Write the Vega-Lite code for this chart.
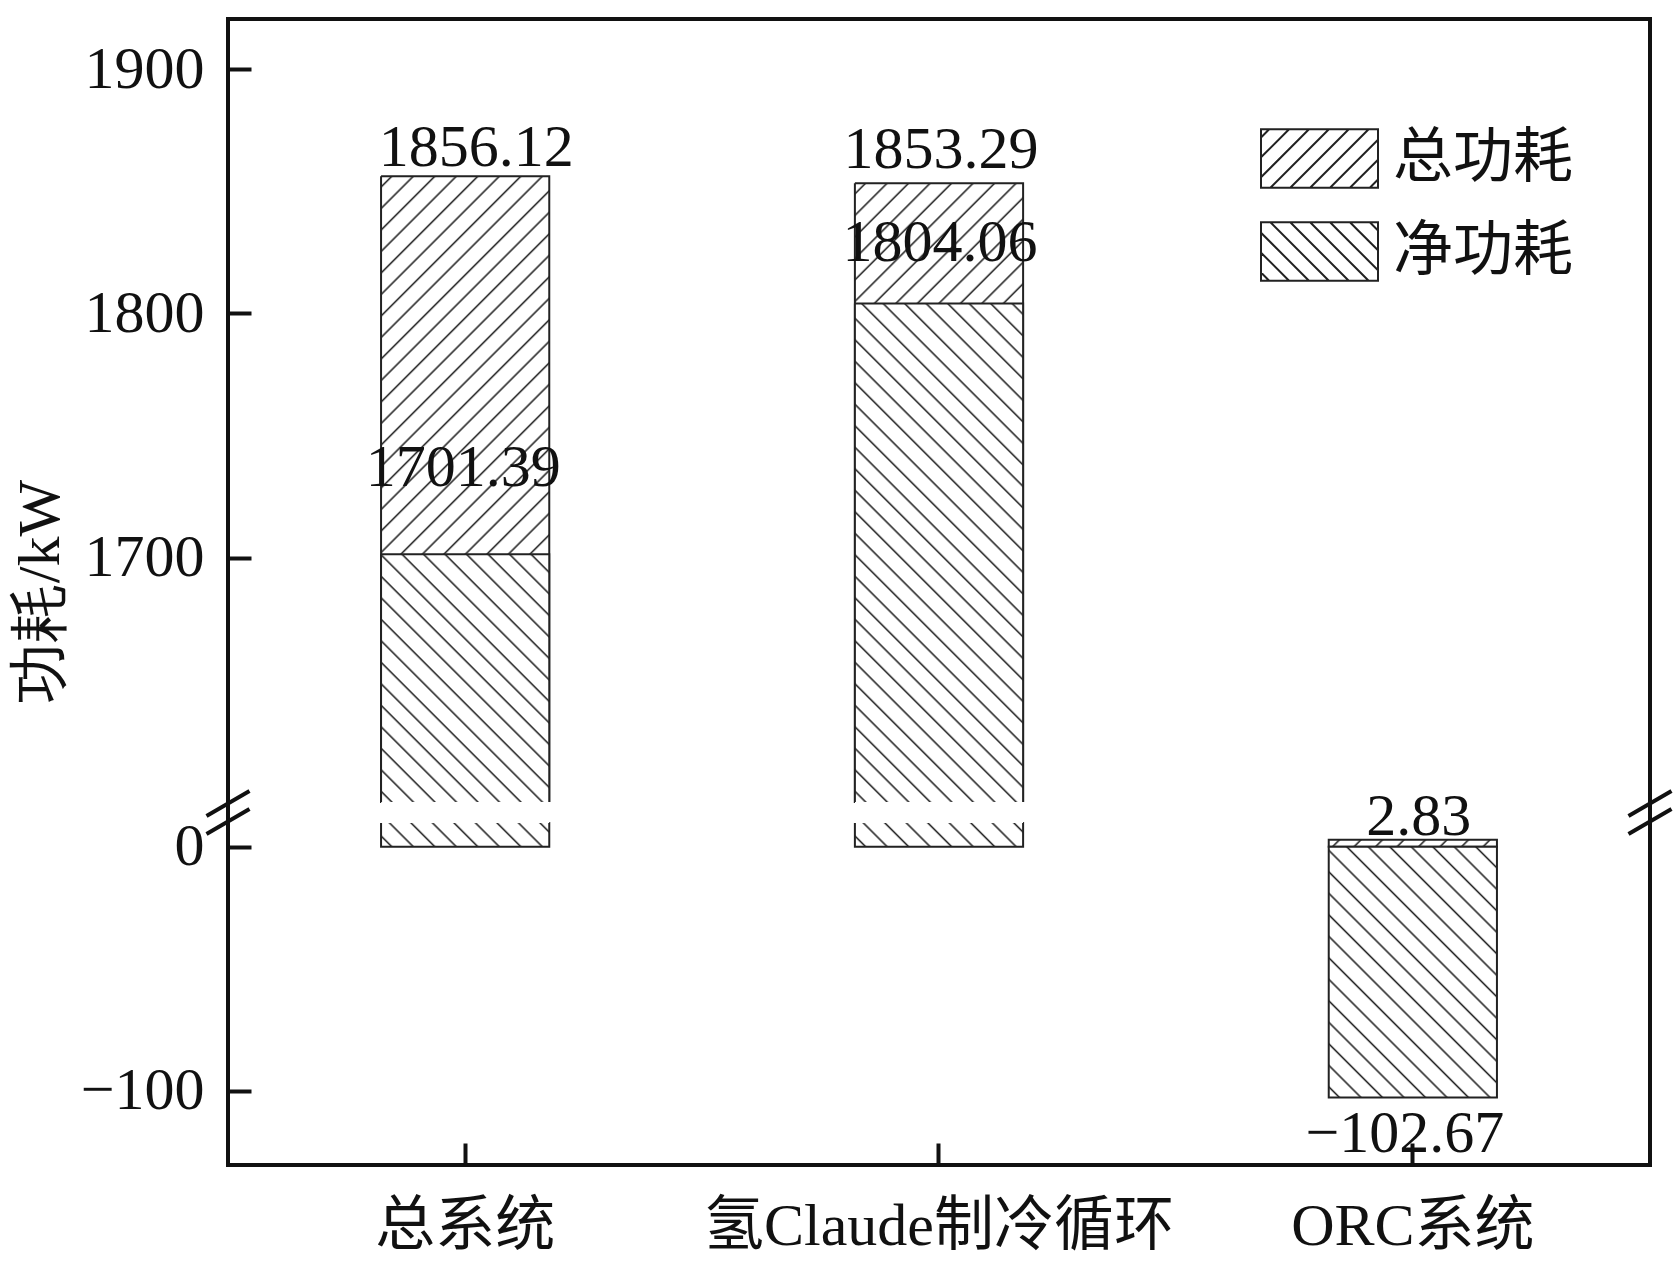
{
"$schema":"https://vega.github.io/schema/vega-lite/v6.json",
"background":"white",
"padding":{"left":8,"top":17,"right":10,"bottom":10},
"bounds":"flush",
"spacing":0,
"config":{"view":{"stroke":null},"axis":{"grid":false},"legend":{"labelLimit":0}},
"data":{"values":[
 {"category":"总系统","type":"总功耗","value":1856.12},
 {"category":"总系统","type":"净功耗","value":1701.39},
 {"category":"氢Claude制冷循环","type":"总功耗","value":1853.29},
 {"category":"氢Claude制冷循环","type":"净功耗","value":1804.06},
 {"category":"ORC系统","type":"总功耗","value":2.83},
 {"category":"ORC系统","type":"净功耗","value":-102.67}
]},
"resolve":{"scale":{"shape":"independent"},"legend":{"shape":"independent"}},
"vconcat":[
{
"width":1422,"height":783,
"view":{"stroke":"#111","strokeWidth":4,"strokeDash":[2205,1422,783]},
"encoding":{"y":{"field":"value","type":"quantitative","scale":{"domain":[1600,1920.5],"clamp":true,"nice":false,"zero":false},"axis":{"values":[1700,1800,1900],"format":"d","domain":false,"grid":false,"tickSize":-23,"tickWidth":4,"tickColor":"#111","labelPadding":47,"labelFont":"Liberation Serif","labelFontSize":60,"labelColor":"#111","labelLimit":0,"title":"功耗/kW","titleFont":"Liberation Serif","titleFontSize":60,"titleFontWeight":"normal","titleColor":"#111","titleAngle":270,"titleX":-188,"titleY":572,"titleAlign":"center","titleBaseline":"middle"}}},
"layer":[
 {"transform":[{"filter":"datum.category === '总系统' && datum.type === '总功耗'"}],
  "mark":{"type":"bar","stroke":"#222","strokeWidth":2,"strokeDash":[793.9,168.2,625.7,1],"fill":{"gradient":"linear","x1":0,"y1":0,"x2":0.3181,"y2":1.1833,"stops":[{"offset":0.01077,"color":"#fff"},{"offset":0.01354,"color":"#222"},{"offset":0.01631,"color":"#fff"},{"offset":0.03785,"color":"#fff"},{"offset":0.04062,"color":"#222"},{"offset":0.04339,"color":"#fff"},{"offset":0.06493,"color":"#fff"},{"offset":0.06771,"color":"#222"},{"offset":0.07048,"color":"#fff"},{"offset":0.09202,"color":"#fff"},{"offset":0.09479,"color":"#222"},{"offset":0.09756,"color":"#fff"},{"offset":0.1191,"color":"#fff"},{"offset":0.12187,"color":"#222"},{"offset":0.12464,"color":"#fff"},{"offset":0.14618,"color":"#fff"},{"offset":0.14895,"color":"#222"},{"offset":0.15172,"color":"#fff"},{"offset":0.17326,"color":"#fff"},{"offset":0.17603,"color":"#222"},{"offset":0.1788,"color":"#fff"},{"offset":0.20034,"color":"#fff"},{"offset":0.20312,"color":"#222"},{"offset":0.20589,"color":"#fff"},{"offset":0.22743,"color":"#fff"},{"offset":0.2302,"color":"#222"},{"offset":0.23297,"color":"#fff"},{"offset":0.25451,"color":"#fff"},{"offset":0.25728,"color":"#222"},{"offset":0.26005,"color":"#fff"},{"offset":0.28159,"color":"#fff"},{"offset":0.28436,"color":"#222"},{"offset":0.28713,"color":"#fff"},{"offset":0.30867,"color":"#fff"},{"offset":0.31144,"color":"#222"},{"offset":0.31421,"color":"#fff"},{"offset":0.33575,"color":"#fff"},{"offset":0.33853,"color":"#222"},{"offset":0.3413,"color":"#fff"},{"offset":0.36284,"color":"#fff"},{"offset":0.36561,"color":"#222"},{"offset":0.36838,"color":"#fff"},{"offset":0.38992,"color":"#fff"},{"offset":0.39269,"color":"#222"},{"offset":0.39546,"color":"#fff"},{"offset":0.417,"color":"#fff"},{"offset":0.41977,"color":"#222"},{"offset":0.42254,"color":"#fff"},{"offset":0.44408,"color":"#fff"},{"offset":0.44685,"color":"#222"},{"offset":0.44962,"color":"#fff"},{"offset":0.47116,"color":"#fff"},{"offset":0.47394,"color":"#222"},{"offset":0.47671,"color":"#fff"},{"offset":0.49825,"color":"#fff"},{"offset":0.50102,"color":"#222"},{"offset":0.50379,"color":"#fff"},{"offset":0.52533,"color":"#fff"},{"offset":0.5281,"color":"#222"},{"offset":0.53087,"color":"#fff"},{"offset":0.55241,"color":"#fff"},{"offset":0.55518,"color":"#222"},{"offset":0.55795,"color":"#fff"},{"offset":0.57949,"color":"#fff"},{"offset":0.58226,"color":"#222"},{"offset":0.58503,"color":"#fff"},{"offset":0.60657,"color":"#fff"},{"offset":0.60935,"color":"#222"},{"offset":0.61212,"color":"#fff"},{"offset":0.63366,"color":"#fff"},{"offset":0.63643,"color":"#222"},{"offset":0.6392,"color":"#fff"},{"offset":0.66074,"color":"#fff"},{"offset":0.66351,"color":"#222"},{"offset":0.66628,"color":"#fff"}]}},
  "encoding":{"x":{"field":"category","type":"nominal","scale":{"type":"band","domain":["总系统","氢Claude制冷循环","ORC系统"],"paddingInner":0.645,"paddingOuter":0.323},"axis":null},"y2":{"datum":0}}},
 {"transform":[{"filter":"datum.category === '氢Claude制冷循环' && datum.type === '总功耗'"}],
  "mark":{"type":"bar","stroke":"#222","strokeWidth":2,"strokeDash":[787.0,168.2,618.8,1],"fill":{"gradient":"linear","x1":0,"y1":0,"x2":0.3219,"y2":1.1843,"stops":[{"offset":0.01086,"color":"#fff"},{"offset":0.01366,"color":"#222"},{"offset":0.01645,"color":"#fff"},{"offset":0.03818,"color":"#fff"},{"offset":0.04098,"color":"#222"},{"offset":0.04377,"color":"#fff"},{"offset":0.0655,"color":"#fff"},{"offset":0.0683,"color":"#222"},{"offset":0.07109,"color":"#fff"},{"offset":0.09282,"color":"#fff"},{"offset":0.09562,"color":"#222"},{"offset":0.09841,"color":"#fff"},{"offset":0.12014,"color":"#fff"},{"offset":0.12294,"color":"#222"},{"offset":0.12573,"color":"#fff"},{"offset":0.14746,"color":"#fff"},{"offset":0.15025,"color":"#222"},{"offset":0.15305,"color":"#fff"},{"offset":0.17478,"color":"#fff"},{"offset":0.17757,"color":"#222"},{"offset":0.18037,"color":"#fff"},{"offset":0.2021,"color":"#fff"},{"offset":0.20489,"color":"#222"},{"offset":0.20769,"color":"#fff"},{"offset":0.22942,"color":"#fff"},{"offset":0.23221,"color":"#222"},{"offset":0.23501,"color":"#fff"},{"offset":0.25674,"color":"#fff"},{"offset":0.25953,"color":"#222"},{"offset":0.26233,"color":"#fff"},{"offset":0.28405,"color":"#fff"},{"offset":0.28685,"color":"#222"},{"offset":0.28964,"color":"#fff"},{"offset":0.31137,"color":"#fff"},{"offset":0.31417,"color":"#222"},{"offset":0.31696,"color":"#fff"},{"offset":0.33869,"color":"#fff"},{"offset":0.34149,"color":"#222"},{"offset":0.34428,"color":"#fff"}]}},
  "encoding":{"x":{"field":"category","type":"nominal","scale":{"type":"band","domain":["总系统","氢Claude制冷循环","ORC系统"],"paddingInner":0.645,"paddingOuter":0.323},"axis":null},"y2":{"datum":0}}},
 {"transform":[{"filter":"datum.category === '总系统' && datum.type === '净功耗'"}],
  "mark":{"type":"bar","stroke":"#222","strokeWidth":2,"strokeDash":[415.9,168.2,247.7,1],"fill":{"gradient":"linear","x1":0,"y1":1,"x2":0.7803,"y2":-0.1492,"stops":[{"offset":0.02056,"color":"#fff"},{"offset":0.02585,"color":"#222"},{"offset":0.03114,"color":"#fff"},{"offset":0.07225,"color":"#fff"},{"offset":0.07754,"color":"#222"},{"offset":0.08283,"color":"#fff"},{"offset":0.12395,"color":"#fff"},{"offset":0.12924,"color":"#222"},{"offset":0.13453,"color":"#fff"},{"offset":0.17564,"color":"#fff"},{"offset":0.18093,"color":"#222"},{"offset":0.18622,"color":"#fff"},{"offset":0.22734,"color":"#fff"},{"offset":0.23263,"color":"#222"},{"offset":0.23792,"color":"#fff"},{"offset":0.27903,"color":"#fff"},{"offset":0.28432,"color":"#222"},{"offset":0.28961,"color":"#fff"},{"offset":0.33073,"color":"#fff"},{"offset":0.33602,"color":"#222"},{"offset":0.34131,"color":"#fff"},{"offset":0.38242,"color":"#fff"},{"offset":0.38771,"color":"#222"},{"offset":0.393,"color":"#fff"},{"offset":0.43412,"color":"#fff"},{"offset":0.43941,"color":"#222"},{"offset":0.4447,"color":"#fff"},{"offset":0.48581,"color":"#fff"},{"offset":0.4911,"color":"#222"},{"offset":0.49639,"color":"#fff"},{"offset":0.53751,"color":"#fff"},{"offset":0.5428,"color":"#222"},{"offset":0.54809,"color":"#fff"},{"offset":0.5892,"color":"#fff"},{"offset":0.59449,"color":"#222"},{"offset":0.59978,"color":"#fff"},{"offset":0.6409,"color":"#fff"},{"offset":0.64619,"color":"#222"},{"offset":0.65148,"color":"#fff"},{"offset":0.69259,"color":"#fff"},{"offset":0.69788,"color":"#222"},{"offset":0.70317,"color":"#fff"},{"offset":0.74429,"color":"#fff"},{"offset":0.74958,"color":"#222"},{"offset":0.75487,"color":"#fff"},{"offset":0.79598,"color":"#fff"},{"offset":0.80127,"color":"#222"},{"offset":0.80656,"color":"#fff"},{"offset":0.84768,"color":"#fff"},{"offset":0.85297,"color":"#222"},{"offset":0.85826,"color":"#fff"},{"offset":0.89937,"color":"#fff"},{"offset":0.90466,"color":"#222"},{"offset":0.90995,"color":"#fff"},{"offset":0.95107,"color":"#fff"},{"offset":0.95636,"color":"#222"},{"offset":0.96165,"color":"#fff"}]}},
  "encoding":{"x":{"field":"category","type":"nominal","scale":{"type":"band","domain":["总系统","氢Claude制冷循环","ORC系统"],"paddingInner":0.645,"paddingOuter":0.323},"axis":null},"y2":{"datum":0}}},
 {"transform":[{"filter":"datum.category === '氢Claude制冷循环' && datum.type === '净功耗'"}],
  "mark":{"type":"bar","stroke":"#222","strokeWidth":2,"strokeDash":[666.7,168.2,498.5,1],"fill":{"gradient":"linear","x1":0,"y1":1,"x2":0.4051,"y2":-0.2007,"stops":[{"offset":0.01282,"color":"#fff"},{"offset":0.01612,"color":"#222"},{"offset":0.01942,"color":"#fff"},{"offset":0.04507,"color":"#fff"},{"offset":0.04837,"color":"#222"},{"offset":0.05167,"color":"#fff"},{"offset":0.07732,"color":"#fff"},{"offset":0.08062,"color":"#222"},{"offset":0.08392,"color":"#fff"},{"offset":0.10957,"color":"#fff"},{"offset":0.11287,"color":"#222"},{"offset":0.11617,"color":"#fff"},{"offset":0.14182,"color":"#fff"},{"offset":0.14512,"color":"#222"},{"offset":0.14842,"color":"#fff"},{"offset":0.17406,"color":"#fff"},{"offset":0.17736,"color":"#222"},{"offset":0.18066,"color":"#fff"},{"offset":0.20631,"color":"#fff"},{"offset":0.20961,"color":"#222"},{"offset":0.21291,"color":"#fff"},{"offset":0.23856,"color":"#fff"},{"offset":0.24186,"color":"#222"},{"offset":0.24516,"color":"#fff"},{"offset":0.27081,"color":"#fff"},{"offset":0.27411,"color":"#222"},{"offset":0.27741,"color":"#fff"},{"offset":0.30306,"color":"#fff"},{"offset":0.30636,"color":"#222"},{"offset":0.30966,"color":"#fff"},{"offset":0.3353,"color":"#fff"},{"offset":0.3386,"color":"#222"},{"offset":0.3419,"color":"#fff"},{"offset":0.36755,"color":"#fff"},{"offset":0.37085,"color":"#222"},{"offset":0.37415,"color":"#fff"},{"offset":0.3998,"color":"#fff"},{"offset":0.4031,"color":"#222"},{"offset":0.4064,"color":"#fff"},{"offset":0.43205,"color":"#fff"},{"offset":0.43535,"color":"#222"},{"offset":0.43865,"color":"#fff"},{"offset":0.4643,"color":"#fff"},{"offset":0.4676,"color":"#222"},{"offset":0.4709,"color":"#fff"},{"offset":0.49654,"color":"#fff"},{"offset":0.49984,"color":"#222"},{"offset":0.50314,"color":"#fff"},{"offset":0.52879,"color":"#fff"},{"offset":0.53209,"color":"#222"},{"offset":0.53539,"color":"#fff"},{"offset":0.56104,"color":"#fff"},{"offset":0.56434,"color":"#222"},{"offset":0.56764,"color":"#fff"},{"offset":0.59329,"color":"#fff"},{"offset":0.59659,"color":"#222"},{"offset":0.59989,"color":"#fff"},{"offset":0.62554,"color":"#fff"},{"offset":0.62884,"color":"#222"},{"offset":0.63214,"color":"#fff"},{"offset":0.65778,"color":"#fff"},{"offset":0.66108,"color":"#222"},{"offset":0.66438,"color":"#fff"},{"offset":0.69003,"color":"#fff"},{"offset":0.69333,"color":"#222"},{"offset":0.69663,"color":"#fff"},{"offset":0.72228,"color":"#fff"},{"offset":0.72558,"color":"#222"},{"offset":0.72888,"color":"#fff"},{"offset":0.75453,"color":"#fff"},{"offset":0.75783,"color":"#222"},{"offset":0.76113,"color":"#fff"},{"offset":0.78678,"color":"#fff"},{"offset":0.79008,"color":"#222"},{"offset":0.79338,"color":"#fff"},{"offset":0.81902,"color":"#fff"},{"offset":0.82232,"color":"#222"},{"offset":0.82562,"color":"#fff"},{"offset":0.85127,"color":"#fff"},{"offset":0.85457,"color":"#222"},{"offset":0.85787,"color":"#fff"},{"offset":0.88352,"color":"#fff"},{"offset":0.88682,"color":"#222"},{"offset":0.89012,"color":"#fff"},{"offset":0.91577,"color":"#fff"},{"offset":0.91907,"color":"#222"},{"offset":0.92237,"color":"#fff"},{"offset":0.94802,"color":"#fff"},{"offset":0.95132,"color":"#222"},{"offset":0.95462,"color":"#fff"},{"offset":0.98026,"color":"#fff"},{"offset":0.98356,"color":"#222"},{"offset":0.98686,"color":"#fff"}]}},
  "encoding":{"x":{"field":"category","type":"nominal","scale":{"type":"band","domain":["总系统","氢Claude制冷循环","ORC系统"],"paddingInner":0.645,"paddingOuter":0.323},"axis":null},"y2":{"datum":0}}},
 {"transform":[{"filter":"datum.category === '总系统' && datum.type === '总功耗'"}],
  "mark":{"type":"text","font":"Liberation Serif","fontSize":60,"fill":"#111","align":"center","baseline":"alphabetic","dx":11,"dy":-10},
  "encoding":{"x":{"field":"category","type":"nominal","scale":{"type":"band","domain":["总系统","氢Claude制冷循环","ORC系统"],"paddingInner":0.645,"paddingOuter":0.323},"axis":null},"text":{"field":"value","type":"quantitative","format":".2f"}}},
 {"transform":[{"filter":"datum.category === '氢Claude制冷循环' && datum.type === '总功耗'"}],
  "mark":{"type":"text","font":"Liberation Serif","fontSize":60,"fill":"#111","align":"center","baseline":"alphabetic","dx":2,"dy":-15},
  "encoding":{"x":{"field":"category","type":"nominal","scale":{"type":"band","domain":["总系统","氢Claude制冷循环","ORC系统"],"paddingInner":0.645,"paddingOuter":0.323},"axis":null},"text":{"field":"value","type":"quantitative","format":".2f"}}},
 {"transform":[{"filter":"datum.category === '总系统' && datum.type === '净功耗'"}],
  "mark":{"type":"text","font":"Liberation Serif","fontSize":60,"fill":"#111","align":"center","baseline":"alphabetic","dx":-2,"dy":-68},
  "encoding":{"x":{"field":"category","type":"nominal","scale":{"type":"band","domain":["总系统","氢Claude制冷循环","ORC系统"],"paddingInner":0.645,"paddingOuter":0.323},"axis":null},"text":{"field":"value","type":"quantitative","format":".2f"}}},
 {"transform":[{"filter":"datum.category === '氢Claude制冷循环' && datum.type === '净功耗'"}],
  "mark":{"type":"text","font":"Liberation Serif","fontSize":60,"fill":"#111","align":"center","baseline":"alphabetic","dx":1,"dy":-42},
  "encoding":{"x":{"field":"category","type":"nominal","scale":{"type":"band","domain":["总系统","氢Claude制冷循环","ORC系统"],"paddingInner":0.645,"paddingOuter":0.323},"axis":null},"text":{"field":"value","type":"quantitative","format":".2f"}}},
 {"transform":[{"filter":"datum.value > 100000"}],
  "mark":{"type":"point","filled":false,"stroke":"#222","strokeWidth":2,"opacity":1},
  "encoding":{"shape":{"field":"type","type":"nominal","scale":{"domain":["总功耗","净功耗"],"range":["M-1,-0.5H1V0.5H-1Z M-1,-0.36L-0.86,-0.5 M-1,-0.02L-0.52,-0.5 M-1,0.32L-0.18,-0.5 M-0.84,0.5L0.16,-0.5 M-0.5,0.5L0.5,-0.5 M-0.16,0.5L0.84,-0.5 M0.18,0.5L1,-0.32 M0.52,0.5L1,0.02 M0.86,0.5L1,0.36","M-1,-0.5H1V0.5H-1Z M-1,0.36L-0.86,0.5 M-1,0.02L-0.52,0.5 M-1,-0.32L-0.18,0.5 M-0.84,-0.5L0.16,0.5 M-0.5,-0.5L0.5,0.5 M-0.16,-0.5L0.84,0.5 M0.18,-0.5L1,0.32 M0.52,-0.5L1,-0.02 M0.86,-0.5L1,-0.36"]},"legend":{"orient":"none","legendX":1032,"legendY":80,"title":null,"padding":0,"symbolSize":13689,"symbolStrokeColor":"#222","symbolStrokeWidth":2,"symbolFillColor":"white","symbolOpacity":1,"labelFont":"Noto Sans CJK SC","labelFontSize":60,"labelColor":"#111","labelOffset":14,"labelLimit":0,"rowPadding":-30}}}}
]
},
{
"width":1422,"height":21,
"view":{"stroke":"#111","strokeWidth":4,"strokeDash":[0,1422,21,1422,21]},
"layer":[
 {"data":{"values":[{}]},"mark":{"type":"point","shape":"M-1,0.16L1,-1M-1,1L1,-0.16","size":1849,"filled":false,"stroke":"#111","strokeWidth":4,"opacity":1},"encoding":{"x":{"datum":0,"type":"quantitative","scale":{"domain":[0,1],"nice":false},"axis":null}}},
 {"data":{"values":[{}]},"mark":{"type":"point","shape":"M-1,0.16L1,-1M-1,1L1,-0.16","size":1849,"filled":false,"stroke":"#111","strokeWidth":4,"opacity":1},"encoding":{"x":{"datum":1,"type":"quantitative","scale":{"domain":[0,1],"nice":false},"axis":null}}}
]
},
{
"width":1422,"height":342,
"view":{"stroke":"#111","strokeWidth":4,"strokeDash":[0,1422,2106]},
"encoding":{"y":{"field":"value","type":"quantitative","scale":{"domain":[-130.3,9.7],"clamp":true,"nice":false,"zero":false},"axis":{"values":[-100,0],"format":"d","domain":false,"grid":false,"tickSize":-23,"tickWidth":4,"tickColor":"#111","labelPadding":47,"labelFont":"Liberation Serif","labelFontSize":60,"labelColor":"#111","labelLimit":0,"title":null}}},
"layer":[
 {"transform":[{"filter":"datum.category !== 'ORC系统' && datum.type === '净功耗'"}],
  "mark":{"type":"bar","stroke":"#222","strokeWidth":2,"strokeDash":[0,168.2,215.6,1],"fill":{"gradient":"linear","x1":0,"y1":1,"x2":1.1187,"y2":0.8424,"stops":[{"offset":0.04456,"color":"#fff"},{"offset":0.05602,"color":"#222"},{"offset":0.06748,"color":"#fff"},{"offset":0.1566,"color":"#fff"},{"offset":0.16806,"color":"#222"},{"offset":0.17952,"color":"#fff"},{"offset":0.26864,"color":"#fff"},{"offset":0.2801,"color":"#222"},{"offset":0.29156,"color":"#fff"},{"offset":0.38068,"color":"#fff"},{"offset":0.39214,"color":"#222"},{"offset":0.4036,"color":"#fff"},{"offset":0.49272,"color":"#fff"},{"offset":0.50418,"color":"#222"},{"offset":0.51564,"color":"#fff"},{"offset":0.60476,"color":"#fff"},{"offset":0.61622,"color":"#222"},{"offset":0.62768,"color":"#fff"},{"offset":0.7168,"color":"#fff"},{"offset":0.72826,"color":"#222"},{"offset":0.73972,"color":"#fff"},{"offset":0.82884,"color":"#fff"},{"offset":0.8403,"color":"#222"},{"offset":0.85176,"color":"#fff"},{"offset":0.94088,"color":"#fff"},{"offset":0.95234,"color":"#222"},{"offset":0.9638,"color":"#fff"}]}},
  "encoding":{"x":{"field":"category","type":"nominal","scale":{"type":"band","domain":["总系统","氢Claude制冷循环","ORC系统"],"paddingInner":0.645,"paddingOuter":0.323},"axis":{"orient":"bottom","title":null,"domain":false,"grid":false,"tickSize":-22,"tickWidth":4,"tickColor":"#111","labelAngle":0,"labelFont":"Liberation Serif, Noto Sans CJK SC","labelFontSize":60,"labelColor":"#111","labelPadding":54,"labelBaseline":"top","labelLimit":0}},"y2":{"datum":0}}},
 {"transform":[{"filter":"datum.category === 'ORC系统' && datum.type === '总功耗'"}],
  "mark":{"type":"bar","stroke":"#222","strokeWidth":2,"fill":{"gradient":"linear","x1":0,"y1":0,"x2":1.0393,"y2":0.0426,"stops":[{"offset":0.04883,"color":"#fff"},{"offset":0.06139,"color":"#222"},{"offset":0.07395,"color":"#fff"},{"offset":0.17162,"color":"#fff"},{"offset":0.18418,"color":"#222"},{"offset":0.19674,"color":"#fff"},{"offset":0.29441,"color":"#fff"},{"offset":0.30697,"color":"#222"},{"offset":0.31953,"color":"#fff"},{"offset":0.4172,"color":"#fff"},{"offset":0.42976,"color":"#222"},{"offset":0.44232,"color":"#fff"},{"offset":0.53999,"color":"#fff"},{"offset":0.55255,"color":"#222"},{"offset":0.56511,"color":"#fff"},{"offset":0.66278,"color":"#fff"},{"offset":0.67534,"color":"#222"},{"offset":0.6879,"color":"#fff"},{"offset":0.78557,"color":"#fff"},{"offset":0.79813,"color":"#222"},{"offset":0.81069,"color":"#fff"},{"offset":0.90836,"color":"#fff"},{"offset":0.92092,"color":"#222"},{"offset":0.93348,"color":"#fff"}]}},
  "encoding":{"x":{"field":"category","type":"nominal","scale":{"type":"band","domain":["总系统","氢Claude制冷循环","ORC系统"],"paddingInner":0.645,"paddingOuter":0.323},"axis":{"orient":"bottom","title":null,"domain":false,"grid":false,"tickSize":-22,"tickWidth":4,"tickColor":"#111","labelAngle":0,"labelFont":"Liberation Serif, Noto Sans CJK SC","labelFontSize":60,"labelColor":"#111","labelPadding":54,"labelBaseline":"top","labelLimit":0}},"y2":{"datum":0}}},
 {"transform":[{"filter":"datum.category === 'ORC系统' && datum.type === '净功耗'"}],
  "mark":{"type":"bar","stroke":"#222","strokeWidth":2,"fill":{"gradient":"linear","x1":0,"y1":1,"x2":0.7728,"y2":-0.1524,"stops":[{"offset":0.02041,"color":"#fff"},{"offset":0.02566,"color":"#222"},{"offset":0.03091,"color":"#fff"},{"offset":0.07172,"color":"#fff"},{"offset":0.07697,"color":"#222"},{"offset":0.08222,"color":"#fff"},{"offset":0.12303,"color":"#fff"},{"offset":0.12828,"color":"#222"},{"offset":0.13353,"color":"#fff"},{"offset":0.17435,"color":"#fff"},{"offset":0.1796,"color":"#222"},{"offset":0.18485,"color":"#fff"},{"offset":0.22566,"color":"#fff"},{"offset":0.23091,"color":"#222"},{"offset":0.23616,"color":"#fff"},{"offset":0.27697,"color":"#fff"},{"offset":0.28222,"color":"#222"},{"offset":0.28747,"color":"#fff"},{"offset":0.32828,"color":"#fff"},{"offset":0.33353,"color":"#222"},{"offset":0.33878,"color":"#fff"},{"offset":0.3796,"color":"#fff"},{"offset":0.38485,"color":"#222"},{"offset":0.3901,"color":"#fff"},{"offset":0.43091,"color":"#fff"},{"offset":0.43616,"color":"#222"},{"offset":0.44141,"color":"#fff"},{"offset":0.48222,"color":"#fff"},{"offset":0.48747,"color":"#222"},{"offset":0.49272,"color":"#fff"},{"offset":0.53354,"color":"#fff"},{"offset":0.53879,"color":"#222"},{"offset":0.54404,"color":"#fff"},{"offset":0.58485,"color":"#fff"},{"offset":0.5901,"color":"#222"},{"offset":0.59535,"color":"#fff"},{"offset":0.63616,"color":"#fff"},{"offset":0.64141,"color":"#222"},{"offset":0.64666,"color":"#fff"},{"offset":0.68748,"color":"#fff"},{"offset":0.69273,"color":"#222"},{"offset":0.69798,"color":"#fff"},{"offset":0.73879,"color":"#fff"},{"offset":0.74404,"color":"#222"},{"offset":0.74929,"color":"#fff"},{"offset":0.7901,"color":"#fff"},{"offset":0.79535,"color":"#222"},{"offset":0.8006,"color":"#fff"},{"offset":0.84141,"color":"#fff"},{"offset":0.84666,"color":"#222"},{"offset":0.85191,"color":"#fff"},{"offset":0.89273,"color":"#fff"},{"offset":0.89798,"color":"#222"},{"offset":0.90323,"color":"#fff"},{"offset":0.94404,"color":"#fff"},{"offset":0.94929,"color":"#222"},{"offset":0.95454,"color":"#fff"}]}},
  "encoding":{"x":{"field":"category","type":"nominal","scale":{"type":"band","domain":["总系统","氢Claude制冷循环","ORC系统"],"paddingInner":0.645,"paddingOuter":0.323},"axis":{"orient":"bottom","title":null,"domain":false,"grid":false,"tickSize":-22,"tickWidth":4,"tickColor":"#111","labelAngle":0,"labelFont":"Liberation Serif, Noto Sans CJK SC","labelFontSize":60,"labelColor":"#111","labelPadding":54,"labelBaseline":"top","labelLimit":0}},"y2":{"datum":0}}},
 {"data":{"values":[{}]},"mark":{"type":"rule","stroke":"#111","strokeWidth":3},"encoding":{"y":{"datum":0}}},
 {"transform":[{"filter":"datum.category === 'ORC系统' && datum.type === '总功耗'"}],
  "mark":{"type":"text","font":"Liberation Serif","fontSize":60,"fill":"#111","align":"center","baseline":"alphabetic","dx":6,"dy":-5},
  "encoding":{"x":{"field":"category","type":"nominal","scale":{"type":"band","domain":["总系统","氢Claude制冷循环","ORC系统"],"paddingInner":0.645,"paddingOuter":0.323},"axis":{"orient":"bottom","title":null,"domain":false,"grid":false,"tickSize":-22,"tickWidth":4,"tickColor":"#111","labelAngle":0,"labelFont":"Liberation Serif, Noto Sans CJK SC","labelFontSize":60,"labelColor":"#111","labelPadding":54,"labelBaseline":"top","labelLimit":0}},"text":{"field":"value","type":"quantitative","format":".2f"}}},
 {"transform":[{"filter":"datum.category === 'ORC系统' && datum.type === '净功耗'"}],
  "mark":{"type":"text","font":"Liberation Serif","fontSize":60,"fill":"#111","align":"center","baseline":"alphabetic","dx":-8,"dy":54},
  "encoding":{"x":{"field":"category","type":"nominal","scale":{"type":"band","domain":["总系统","氢Claude制冷循环","ORC系统"],"paddingInner":0.645,"paddingOuter":0.323},"axis":{"orient":"bottom","title":null,"domain":false,"grid":false,"tickSize":-22,"tickWidth":4,"tickColor":"#111","labelAngle":0,"labelFont":"Liberation Serif, Noto Sans CJK SC","labelFontSize":60,"labelColor":"#111","labelPadding":54,"labelBaseline":"top","labelLimit":0}},"text":{"field":"value","type":"quantitative","format":".2f"}}}
]
}
]
}
